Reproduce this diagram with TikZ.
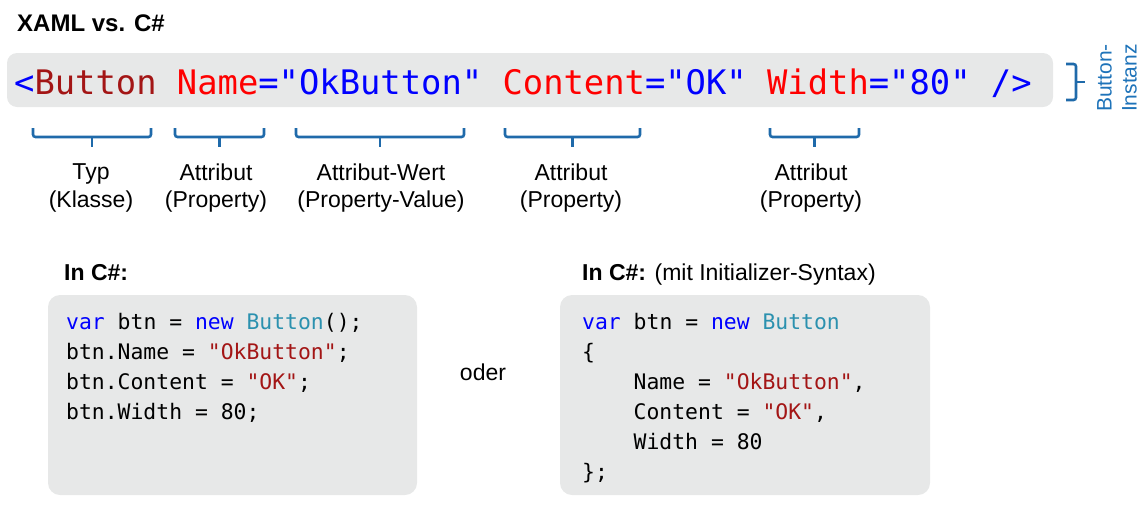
\documentclass[tikz,border=0pt]{standalone}
\usepackage{fontspec}
\setmainfont{Liberation Sans}
\newfontfamily\codefont{DejaVu Sans Mono}
\definecolor{boxgray}{RGB}{231,232,232}
\definecolor{bracecol}{RGB}{31,106,170}
\definecolor{instcol}{RGB}{30,115,185}
\definecolor{kw}{RGB}{0,0,255}
\definecolor{tagc}{RGB}{163,21,21}
\definecolor{attr}{RGB}{255,0,0}
\definecolor{typc}{RGB}{43,145,175}
\definecolor{strc}{RGB}{163,21,21}
\begin{document}
\begin{tikzpicture}[x=1pt,y=-1pt,
  graybox/.style={fill=boxgray, draw=none, rounded corners=12pt},
  ubrace/.style={draw=bracecol, line width=2.6pt, rounded corners=2.5pt},
  lbl/.style={align=center, font=\fontsize{23}{27.5}\selectfont, inner sep=0pt},
  codeline/.style={anchor=base west, inner sep=0pt, font=\fontsize{21.4}{30}\codefont},
  heading/.style={anchor=base west, inner sep=0pt, font=\fontsize{23}{27}\selectfont}]
\useasboundingbox (0,0) rectangle (1148,512);
% title
\node[anchor=base west, inner sep=0pt, font=\fontsize{24}{28}\selectfont\bfseries] (title) at (17,31) {XAML vs. C\#};
% XAML bar
\path[graybox, rounded corners=10pt] (7,53) rectangle (1053,107);
\node[anchor=base west, inner sep=0pt, font=\fontsize{33.8}{40}\codefont] (xaml) at (14,94)
 {\textcolor{kw}{<}\textcolor{tagc}{Button} \textcolor{attr}{Name}\textcolor{kw}{="OkButton"} \textcolor{attr}{Content}\textcolor{kw}{="OK"} \textcolor{attr}{Width}\textcolor{kw}{="80" />}};
% right brace
\draw[ubrace] (1066,64) -- (1076,64) -- (1076,100) -- (1066,100);
\draw[ubrace, rounded corners=0pt] (1076,82) -- (1085,82);
\node[rotate=90, align=center, inner sep=0pt, text=instcol, font=\fontsize{21}{25}\selectfont] (inst) at (1117,78) {Button-\\Instanz};
% under braces
\foreach \a/\b [count=\i] in {33/151,175/264,296/464,505/640,770/859}{
  \draw[ubrace] (\a,128) -- (\a,137) -- (\b,137) -- (\b,128);
  \draw[ubrace, rounded corners=0pt] ({(\a+\b)/2},137) -- ({(\a+\b)/2},147);
}
% labels
\node[lbl] (l1) at (91,188) {Typ\\(Klasse)};
\node[lbl] (l2) at (216,188) {Attribut\\(Property)};
\node[lbl] (l3) at (381,188) {Attribut-Wert\\(Property-Value)};
\node[lbl] (l4) at (571,188) {Attribut\\(Property)};
\node[lbl] (l5) at (811,188) {Attribut\\(Property)};
% headings
\node[heading] (h1) at (64,280) {\textbf{In C\#:}};
\node[heading] (h2) at (582,280) {\textbf{In C\#:} (mit Initializer-Syntax)};
% code boxes
\path[graybox] (48,295) rectangle (417,495);
\path[graybox] (560,295) rectangle (930,495);
\node[lbl] (oder) at (483,372) {oder};
% left code
\node[codeline] (c1) at (66,329) {\textcolor{kw}{var} btn = \textcolor{kw}{new} \textcolor{typc}{Button}();};
\node[codeline] (c2) at (66,359) {btn.Name = \textcolor{strc}{"OkButton"};};
\node[codeline] (c3) at (66,389) {btn.Content = \textcolor{strc}{"OK"};};
\node[codeline] (c4) at (66,419) {btn.Width = 80;};
% right code
\node[codeline] (d1) at (582,329) {\textcolor{kw}{var} btn = \textcolor{kw}{new} \textcolor{typc}{Button}};
\node[codeline] (d2) at (582,359) {\{};
\node[codeline] (d3) at (633.5,389) {Name = \textcolor{strc}{"OkButton"},};
\node[codeline] (d4) at (633.5,419) {Content = \textcolor{strc}{"OK"},};
\node[codeline] (d5) at (633.5,449) {Width = 80};
\node[codeline] (d6) at (582,479) {\};};
\end{tikzpicture}
\end{document}
